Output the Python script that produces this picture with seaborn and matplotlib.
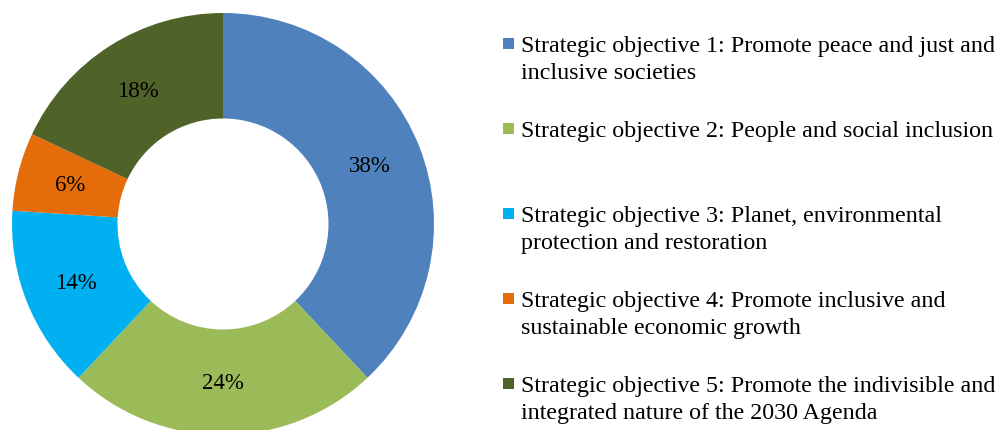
import matplotlib
matplotlib.use("Agg")
import matplotlib.pyplot as plt
from matplotlib.patches import Rectangle
import seaborn as sns

# Share of activities by strategic objective
objectives = [
    "Strategic objective 1: Promote peace and just and\ninclusive societies",
    "Strategic objective 2: People and social inclusion",
    "Strategic objective 3: Planet, environmental\nprotection and restoration",
    "Strategic objective 4: Promote inclusive and\nsustainable economic growth",
    "Strategic objective 5: Promote the indivisible and\nintegrated nature of the 2030 Agenda",
]
shares = [38, 24, 14, 6, 18]
colors = ["#4F81BD", "#9BBB59", "#00B0F0", "#E46C0A", "#4F6228"]

sns.set_theme(style="white")
plt.rcParams["font.family"] = ["Liberation Serif", "DejaVu Serif"]

W, H = 998, 431
fig = plt.figure(figsize=(W / 100, H / 100), dpi=100)
fig.patch.set_facecolor("white")

# Donut: centre (223, 225) px, outer radius 211 px
cx, cy, R = 223, 225, 211
ax = fig.add_axes([(cx - R) / W, (H - cy - R) / H, 2 * R / W, 2 * R / H])
wedges, texts, autotexts = ax.pie(
    shares,
    colors=colors,
    startangle=90,
    counterclock=False,
    radius=1.0,
    autopct=lambda p: f"{p:.0f}%",
    pctdistance=0.75,
    wedgeprops=dict(width=0.5, linewidth=0),
    textprops=dict(fontsize=16.5, color="black"),
)
ax.set_xlim(-1, 1)
ax.set_ylim(-1, 1)
ax.set_aspect("equal")
ax.axis("off")

# Legend drawn as a column with evenly spaced entries; the square sits
# beside the first line of each label
marker_x = 508
text_x = 521
first_y = 44
step = 85
line_step = 27
sq = 11
for i, (label, col) in enumerate(zip(objectives, colors)):
    ym = first_y + i * step
    fig.patches.append(
        Rectangle(((marker_x - sq / 2) / W, (H - ym - sq / 2) / H), sq / W, sq / H,
                  transform=fig.transFigure, facecolor=col, edgecolor="none")
    )
    for k, line in enumerate(label.split("\n")):
        fig.text(text_x / W, (H - ym - 8 - k * line_step) / H, line, fontsize=17.3,
                 va="baseline", ha="left", color="black")

fig.savefig("out.png", dpi=100, facecolor="white")
